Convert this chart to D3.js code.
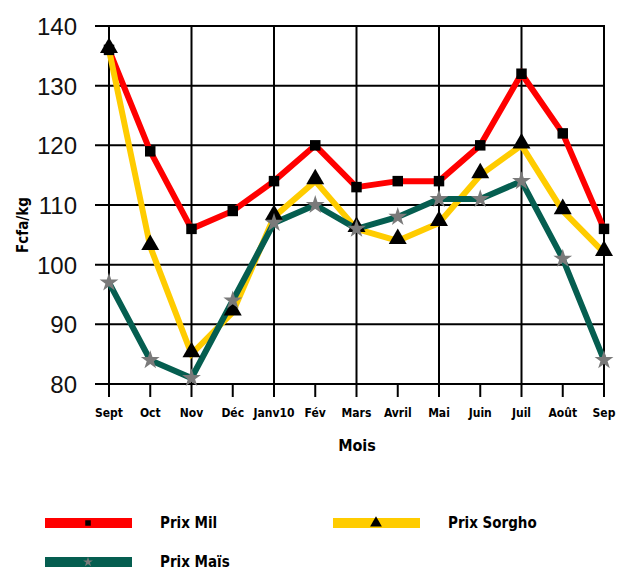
<!DOCTYPE html>
<html>
<head>
<meta charset="utf-8">
<script src="https://cdn.jsdelivr.net/npm/d3@7"></script>
<style>
  body { margin: 0; background: #fff; }
  svg { display: block; }
</style>
</head>
<body>
<div id="chart"></div>
<script>
var months = ["Sept", "Oct", "Nov", "Déc", "Janv10", "Fév", "Mars", "Avril", "Mai", "Juin", "Juil", "Août", "Sep"];
var prixMil = [136, 119, 106, 109, 114, 120, 113, 114, 114, 120, 132, 122, 106];
var prixSorgho = [136, 103, 85, 92, 108, 114, 106, 104, 107, 115, 120, 109, 102];
var prixMais = [97, 84, 81, 94, 107, 110, 106, 108, 111, 111, 114, 101, 84];
var yTicks = [80, 90, 100, 110, 120, 130, 140];

var W = 619, H = 571;
var plotLeft = 109, plotRight = 604, plotTop = 26, plotBottom = 384;

var svg = d3.select("#chart")
    .append("svg")
    .attr("width", W)
    .attr("height", H);

var x = d3.scalePoint()
    .domain(months)
    .range([plotLeft, plotRight]);

var y = d3.scaleLinear()
    .domain([80, 140])
    .range([plotBottom, plotTop]);

// grid - horizontal lines (with outward ticks on the left)
svg.append("g")
    .selectAll("line")
    .data(yTicks)
    .enter().append("line")
    .attr("x1", plotLeft - 14)
    .attr("x2", plotRight + 1)
    .attr("y1", function (d) { return y(d); })
    .attr("y2", function (d) { return y(d); })
    .attr("stroke", "#000")
    .attr("stroke-width", 2);

// vertical grid every other month
svg.append("g")
    .selectAll("line")
    .data(months.filter(function (d, i) { return i % 2 === 0; }))
    .enter().append("line")
    .attr("x1", function (d) { return x(d); })
    .attr("x2", function (d) { return x(d); })
    .attr("y1", plotTop)
    .attr("y2", plotBottom + 13)
    .attr("stroke", "#000")
    .attr("stroke-width", 2);

// small ticks for the other months
svg.append("g")
    .selectAll("line")
    .data(months.filter(function (d, i) { return i % 2 === 1; }))
    .enter().append("line")
    .attr("x1", function (d) { return x(d); })
    .attr("x2", function (d) { return x(d); })
    .attr("y1", plotBottom)
    .attr("y2", plotBottom + 13)
    .attr("stroke", "#000")
    .attr("stroke-width", 2);

// y tick labels
svg.append("g")
    .selectAll("text")
    .data(yTicks)
    .enter().append("text")
    .attr("x", 77)
    .attr("y", function (d) { return y(d) + 9; })
    .attr("text-anchor", "end")
    .attr("font-family", "Liberation Sans, Arial, sans-serif")
    .attr("font-size", "24px")
    .attr("fill", "#111")
    .text(function (d) { return d; });

// x tick labels
svg.append("g")
    .selectAll("text")
    .data(months)
    .enter().append("text")
    .attr("x", function (d) { return x(d); })
    .attr("y", 417)
    .attr("text-anchor", "middle")
    .attr("font-family", "DejaVu Sans Condensed, Liberation Sans Narrow, sans-serif")
    .attr("font-weight", "bold")
    .attr("font-size", "12px")
    .attr("fill", "#000")
    .text(function (d) { return d; });

// axis titles
svg.append("text")
    .attr("x", 357)
    .attr("y", 451)
    .attr("text-anchor", "middle")
    .attr("font-family", "DejaVu Sans Condensed, sans-serif")
    .attr("font-weight", "bold")
    .attr("font-size", "16px")
    .text("Mois");

svg.append("text")
    .attr("transform", "translate(28,225) rotate(-90)")
    .attr("text-anchor", "middle")
    .attr("font-family", "DejaVu Sans Condensed, sans-serif")
    .attr("font-weight", "bold")
    .attr("font-size", "15px")
    .text("Fcfa/kg");

var series = [
    {name: "Prix Mil", values: prixMil, color: "#ff0000", marker: "square"},
    {name: "Prix Sorgho", values: prixSorgho, color: "#ffcc00", marker: "triangle"},
    {name: "Prix Maïs", values: prixMais, color: "#055e50", marker: "star"}
];

var line = d3.line()
    .x(function (d, i) { return x(months[i]); })
    .y(function (d) { return y(d); });

function symbolFor(m, size) {
    var t = m === "square" ? d3.symbolSquare : (m === "triangle" ? d3.symbolTriangle : d3.symbolStar);
    return d3.symbol().type(t).size(size)();
}
function markerFill(m) { return m === "star" ? "#7a7a7a" : "#000"; }
function markerSize(m) { return m === "square" ? 110 : (m === "triangle" ? 140 : 110); }

series.forEach(function (s) {
    svg.append("path")
        .datum(s.values)
        .attr("d", line)
        .attr("fill", "none")
        .attr("stroke", s.color)
        .attr("stroke-width", 6)
        .attr("stroke-linejoin", "miter");
});

series.forEach(function (s) {
    svg.append("g")
        .selectAll("path")
        .data(s.values)
        .enter().append("path")
        .attr("d", symbolFor(s.marker, markerSize(s.marker)))
        .attr("transform", function (d, i) {
            var dy = s.marker === "triangle" ? -2 : 0;
            return "translate(" + x(months[i]) + "," + (y(d) + dy) + ")";
        })
        .attr("fill", markerFill(s.marker));
});

// legend
var legend = [
    {s: series[0], x: 45, y: 523},
    {s: series[1], x: 333, y: 523},
    {s: series[2], x: 45, y: 562}
];
legend.forEach(function (l) {
    var g = svg.append("g").attr("transform", "translate(" + l.x + "," + l.y + ")");
    g.append("rect")
        .attr("x", 0)
        .attr("y", -5)
        .attr("width", 87)
        .attr("height", 10)
        .attr("fill", l.s.color);
    g.append("path")
        .attr("d", symbolFor(l.s.marker, l.s.marker === "triangle" ? 60 : 30))
        .attr("transform", "translate(43,0)")
        .attr("fill", markerFill(l.s.marker));
    g.append("text")
        .attr("x", 115)
        .attr("y", 5)
        .attr("font-family", "DejaVu Sans Condensed, sans-serif")
        .attr("font-weight", "bold")
        .attr("font-size", "15px")
        .text(l.s.name);
});
</script>
</body>
</html>
